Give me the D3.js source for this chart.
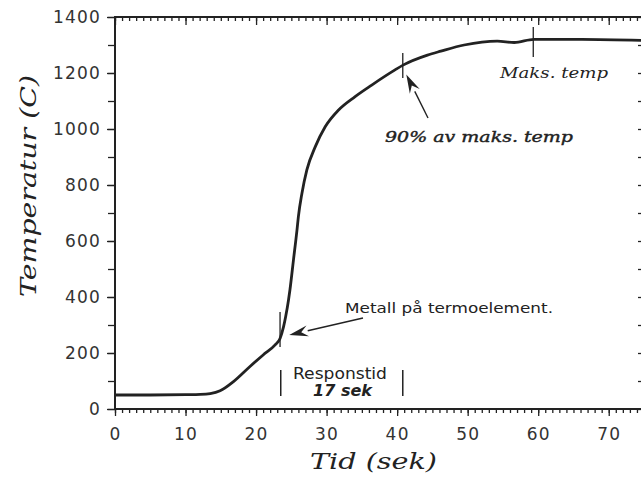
<!DOCTYPE html>
<html>
<head>
<meta charset="utf-8">
<script src="https://cdn.jsdelivr.net/npm/d3@7"></script>
<style>
  html, body { margin: 0; padding: 0; background: #fff; }
  svg { display: block; }
</style>
</head>
<body>
<svg id="chart" width="641" height="479"></svg>
<script>
// ---- data ----
const timeSec = [0, 5, 10, 12.1, 13.5, 14.9, 16.8, 19.1, 21.0, 22.7, 23.4, 23.9, 24.2, 24.6, 24.8, 25.3, 25.8, 26.0, 26.5, 27.2, 28.4, 29.8, 31.7, 34.0, 36.4, 39.7, 40.9, 44.3, 46.2, 49.5, 54.2, 56.6, 59.4, 66.2, 75];
const tempC   = [50, 50, 51, 52, 55, 65, 98, 151, 193, 229, 252, 294, 330, 389, 425, 532, 639, 687, 770, 854, 937, 1008, 1068, 1115, 1157, 1211, 1229, 1264, 1278, 1300, 1314, 1309, 1320, 1320, 1316];

const xTicks = [0, 10, 20, 30, 40, 50, 60, 70];
const yTicks = [0, 200, 400, 600, 800, 1000, 1200, 1400];

// annotation anchors in data units
const markTimes = [23.4, 40.8, 59.3];           // vertical marks on curve
const markSpan  = [[221, 346], [1182, 1271], [1257, 1364]];
const responseBars = [23.5, 40.8];              // "Responstid" brackets
const responseSpan = [46, 139];

// ---- layout ----
const svg = d3.select("#chart");
const x = d3.scaleLinear().domain([0, 75]).range([115, 644]);
const y = d3.scaleLinear().domain([0, 1400]).range([409, 17]);
const ink = "#222";

const tickFont = "'DejaVu Sans', sans-serif";
const serif = "'DejaVu Serif', serif";

// minor ticks
const minorX = d3.range(0, 76, 1);
const minorY = d3.range(0, 1401, 100);

function styleAxis(g) {
  g.select(".domain").remove();
  g.selectAll(".tick line").attr("stroke", ink).attr("stroke-width", 1.3);
  g.selectAll(".tick text").attr("fill", "#333")
    .style("font-family", tickFont).style("font-size", "17px")
    .style("letter-spacing", "1.2px");
}

// bottom minor
svg.append("g").attr("transform", `translate(0,${y(0)})`)
  .call(d3.axisBottom(x).tickValues(minorX).tickSize(4).tickFormat(""))
  .call(styleAxis);
// bottom major
svg.append("g").attr("transform", `translate(0,${y(0)})`)
  .call(d3.axisBottom(x).tickValues(xTicks).tickSize(7).tickPadding(12).tickFormat(d3.format("d")))
  .call(styleAxis);

// top minor (inward)
svg.append("g").attr("transform", `translate(0,${y(1400)})`)
  .call(d3.axisTop(x).tickValues(minorX).tickSize(-4).tickFormat(""))
  .call(styleAxis);
svg.append("g").attr("transform", `translate(0,${y(1400)})`)
  .call(d3.axisTop(x).tickValues(xTicks).tickSize(-8).tickFormat(""))
  .call(styleAxis);

// left axis (outward ticks each 100)
svg.append("g").attr("transform", `translate(${x(0)},0)`)
  .call(d3.axisLeft(y).tickValues(minorY).tickSize(7).tickFormat(""))
  .call(styleAxis);
svg.append("g").attr("transform", `translate(${x(0)},0)`)
  .call(d3.axisLeft(y).tickValues(yTicks).tickSize(8).tickPadding(6).tickFormat(d3.format("d")))
  .call(styleAxis);

// right axis (inward ticks)
svg.append("g").attr("transform", `translate(${x(75)},0)`)
  .call(d3.axisRight(y).tickValues(minorY).tickSize(-6).tickFormat(""))
  .call(styleAxis);

// frame
svg.append("rect")
  .attr("x", x(0)).attr("y", y(1400))
  .attr("width", x(75) - x(0)).attr("height", y(0) - y(1400))
  .attr("fill", "none").attr("stroke", ink).attr("stroke-width", 2);

// curve
const pts = timeSec.map((t, i) => [t, tempC[i]]);
const line = d3.line().x(d => x(d[0])).y(d => y(d[1])).curve(d3.curveMonotoneX);
svg.append("path").datum(pts)
  .attr("d", line).attr("fill", "none")
  .attr("stroke", ink).attr("stroke-width", 2.8).attr("stroke-linejoin", "round");

// vertical marks on the curve
markTimes.forEach((t, i) => {
  svg.append("line")
    .attr("x1", x(t)).attr("x2", x(t))
    .attr("y1", y(markSpan[i][0])).attr("y2", y(markSpan[i][1]))
    .attr("stroke", ink).attr("stroke-width", 1.3);
});

// response-time brackets
responseBars.forEach(t => {
  svg.append("line")
    .attr("x1", x(t)).attr("x2", x(t))
    .attr("y1", y(responseSpan[0])).attr("y2", y(responseSpan[1]))
    .attr("stroke", ink).attr("stroke-width", 1.5);
});

// arrows
function arrow(x1, y1, x2, y2) {
  const ang = Math.atan2(y2 - y1, x2 - x1);
  const L = 19, W = 5.5;
  const bx = x2 - L * Math.cos(ang), by = y2 - L * Math.sin(ang);
  svg.append("line").attr("x1", x1).attr("y1", y1).attr("x2", bx).attr("y2", by)
    .attr("stroke", ink).attr("stroke-width", 1.4);
  const px = -Math.sin(ang) * W, py = Math.cos(ang) * W;
  svg.append("path")
    .attr("d", `M${x2},${y2}L${bx + px},${by + py}L${bx + 0.35 * L * Math.cos(ang)},${by + 0.35 * L * Math.sin(ang)}L${bx - px},${by - py}Z`)
    .attr("fill", ink);
}
arrow(363, 318, x(24.7), y(264));
arrow(428, 118, x(41.3), y(1195));

// annotation texts
function txt(s, xx, yy, opts) {
  const t = svg.append("text").attr("x", xx).attr("y", yy).text(s)
    .attr("fill", ink)
    .style("font-family", opts.family)
    .style("font-size", opts.size + "px");
  if (opts.italic) t.style("font-style", "italic");
  if (opts.weight) t.style("font-weight", opts.weight);
  if (opts.stroke) t.attr("stroke", ink).attr("stroke-width", opts.stroke);
  if (opts.anchor) t.attr("text-anchor", opts.anchor);
  if (opts.len) t.attr("textLength", opts.len).attr("lengthAdjust", "spacingAndGlyphs");
  return t;
}
txt("Metall på termoelement.", 345, 313, { family: tickFont, size: 13.5, len: 208 });
txt("Responstid", 293, 379, { family: tickFont, size: 15.5, len: 94 });
txt("17 sek", 313, 396, { family: tickFont, size: 15, italic: true, weight: "bold", len: 59 });
txt("90% av maks. temp", 385, 142, { family: serif, size: 14.5, italic: true, stroke: 0.4, len: 188 });
txt("Maks. temp", 500, 78, { family: serif, size: 14.5, italic: true, len: 108 });

// axis titles
txt("Tid (sek)", 310, 469, { family: serif, size: 22, italic: true, len: 127 });
svg.append("text")
  .attr("transform", "translate(36,186) rotate(-90)")
  .attr("text-anchor", "middle")
  .attr("fill", ink)
  .attr("textLength", 222).attr("lengthAdjust", "spacingAndGlyphs")
  .style("font-family", serif).style("font-size", "22px").style("font-style", "italic")
  .text("Temperatur (C)");
</script>
</body>
</html>
